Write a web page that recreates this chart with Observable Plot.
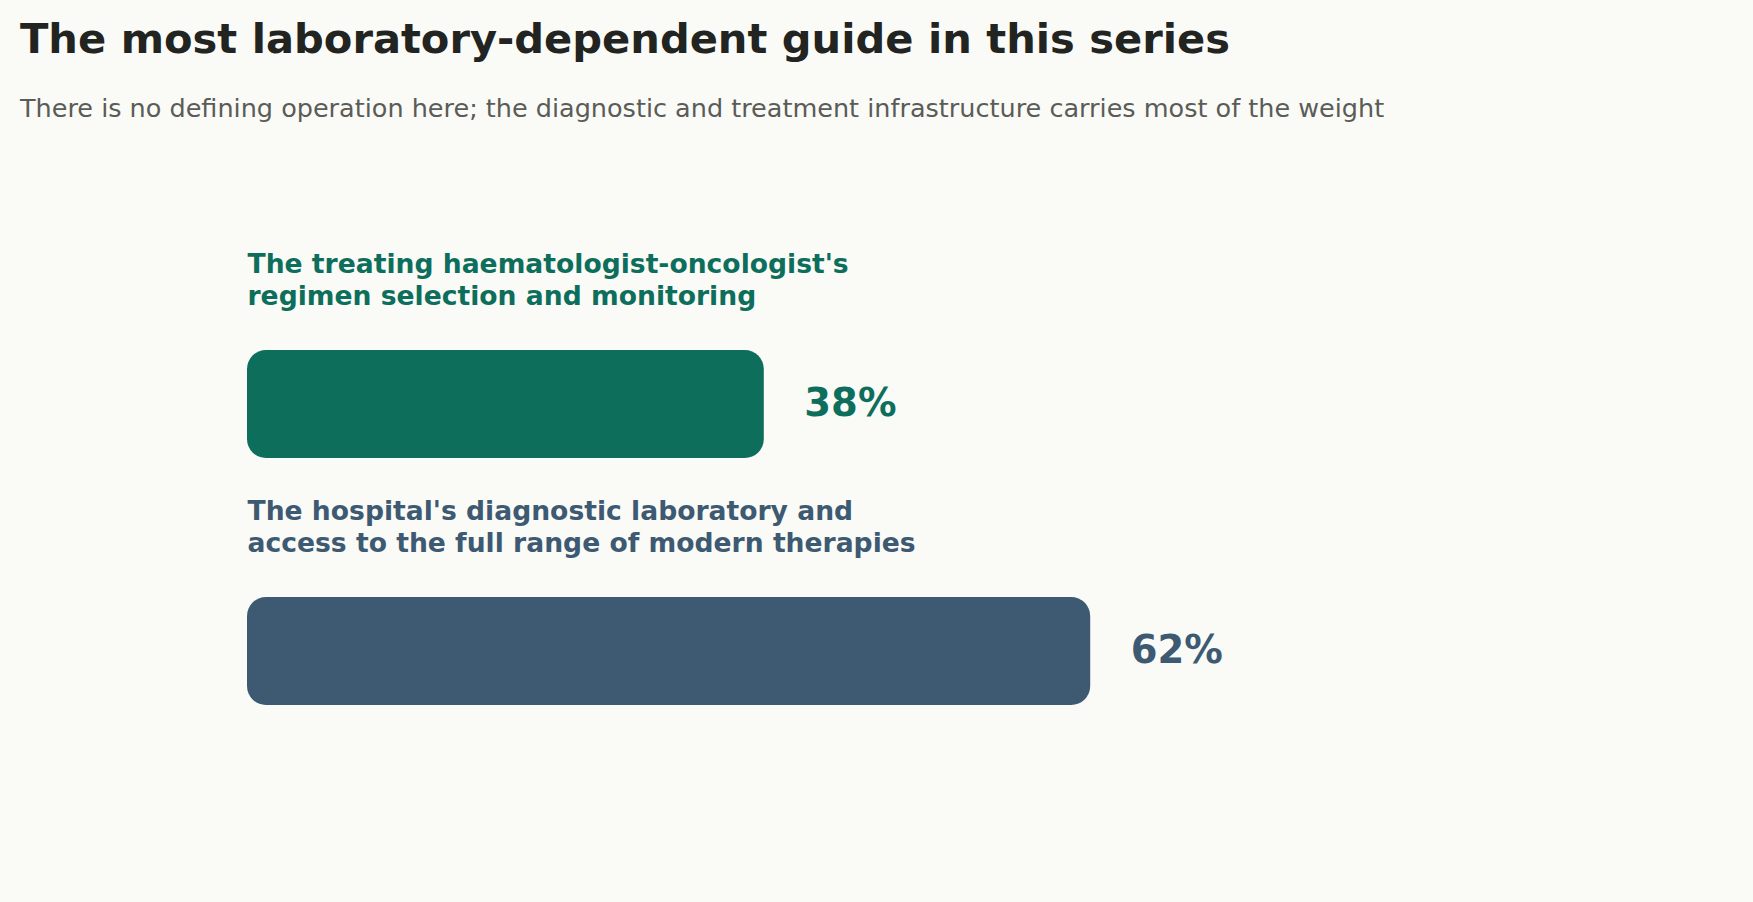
<!DOCTYPE html>
<html>
<head>
<meta charset="utf-8">
<script src="https://cdn.jsdelivr.net/npm/d3@7"></script>
<script src="https://cdn.jsdelivr.net/npm/@observablehq/plot@0.6"></script>
<style>
  html, body { margin: 0; padding: 0; background: #fafaf7; }
  body { width: 1753px; height: 902px; position: relative; overflow: hidden; font-family: "DejaVu Sans", sans-serif; }
  #header { position: relative; height: 150px; }
  #title { position: absolute; left: 20px; top: 18px; margin: 0; font-size: 41.6px; line-height: 1; font-weight: bold; color: #222421; white-space: nowrap; }
  #subtitle { position: absolute; left: 20px; top: 96px; margin: 0; font-size: 25.5px; line-height: 1; font-weight: normal; color: #5a5c58; white-space: nowrap; }
  #chart svg { display: block; background: transparent; }
</style>
</head>
<body>
<div id="header">
  <div id="title">The most laboratory-dependent guide in this series</div>
  <div id="subtitle">There is no defining operation here; the diagnostic and treatment infrastructure carries most of the weight</div>
</div>
<div id="chart"></div>
<script>
const categories = [
  "The treating haematologist-oncologist's\nregimen selection and monitoring",
  "The hospital's diagnostic laboratory and\naccess to the full range of modern therapies"
];
const values = [38, 62];
const colors = ["#0e6e5c", "#3d5a72"];

const data = categories.map((c, i) => ({category: c, value: values[i], color: colors[i]}));

const chart = Plot.plot({
  width: 1753,
  height: 752,
  marginLeft: 247,
  marginRight: 146,
  marginTop: 0,
  marginBottom: 0,
  style: {background: "transparent", fontFamily: "DejaVu Sans, sans-serif", overflow: "visible"},
  x: {domain: [0, 100], axis: null},
  y: {domain: categories, range: [200, 555], paddingInner: 0.5628, paddingOuter: 0, align: 0.5, axis: null},
  marks: [
    Plot.barX(data, {x: "value", y: "category", fill: "color", rx: 19}),
    Plot.text(data, {
      x: 0, y: "category", text: "category", fill: "color",
      textAnchor: "start", lineAnchor: "bottom", lineHeight: 1.19,
      fontSize: 26.6, fontWeight: "bold", dy: -100
    }),
    Plot.text(data, {
      x: "value", y: "category", text: d => d.value + "%", fill: "color",
      textAnchor: "start", fontSize: 38.5, fontWeight: "bold", dx: 40, dy: -1
    })
  ]
});
document.getElementById("chart").appendChild(chart);
</script>
</body>
</html>
